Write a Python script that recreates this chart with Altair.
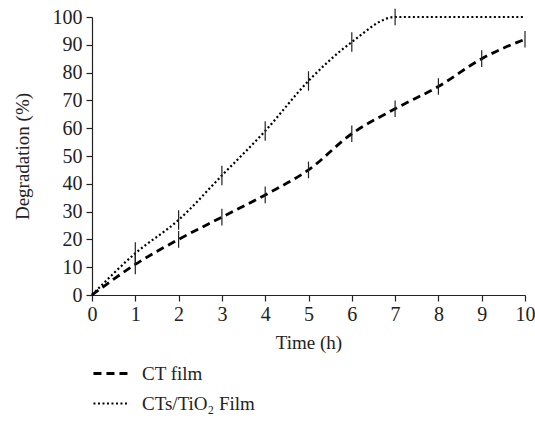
import altair as alt
import pandas as pd

time_h = [0, 1, 2, 3, 4, 5, 6, 7, 8, 9, 10]
ct_film = [0, 11, 20, 28, 36, 45, 58, 67, 75, 85, 92]
ct_err = [0, 3.5, 3, 3, 3, 3, 3, 3, 3, 3, 3]
tio2_film = [0, 15, 27, 43, 59, 77, 91, 100, 100, 100, 100]
tio2_err = [0, 4, 3.5, 3.5, 3.5, 3.5, 3.5, 3, 0, 0, 0]
series_names = ["CT film", "CTs/TiO\u2082 Film"]
y_ticks = [0, 10, 20, 30, 40, 50, 60, 70, 80, 90, 100]

rows = []
for t, v, e in zip(time_h, ct_film, ct_err):
    rows.append({"t": t, "v": v, "lo": v - e, "hi": v + e, "s": series_names[0], "e": e})
for t, v, e in zip(time_h, tio2_film, tio2_err):
    rows.append({"t": t, "v": v, "lo": v - e, "hi": v + e, "s": series_names[1], "e": e})
df = pd.DataFrame(rows)

FONT = "Liberation Serif"

xscale = alt.Scale(domain=[0, 10], nice=False)
yscale = alt.Scale(domain=[0, 100], nice=False)
xaxis = alt.Axis(values=time_h, format="d", labelOverlap=False, labelFlush=False)
yaxis = alt.Axis(values=y_ticks, labelOverlap=False, labelFlush=False)

lines = alt.Chart(df).mark_line(interpolate="monotone", color="black").encode(
    x=alt.X("t:Q", title="Time (h)", scale=xscale, axis=xaxis),
    y=alt.Y("v:Q", title="Degradation (%)", scale=yscale, axis=yaxis),
    strokeDash=alt.StrokeDash("s:N", scale=alt.Scale(domain=series_names, range=[[8, 5], [2, 2.5]]),
                              legend=alt.Legend(title=None, orient="none", legendX=0, legendY=337,
                                                symbolType="stroke", symbolSize=1300,
                                                symbolStrokeColor="black", symbolStrokeWidth=2.5,
                                                labelFont=FONT, labelFontSize=19, labelColor="#222",
                                                rowPadding=-14, labelOffset=11)),
    strokeWidth=alt.StrokeWidth("s:N", scale=alt.Scale(domain=series_names, range=[2.8, 2.2]), legend=None),
    detail="s:N",
)

bars = alt.Chart(df).transform_filter("datum.e > 0").mark_rule(color="#222", strokeWidth=1.2).encode(
    x=alt.X("t:Q", title="Time (h)", scale=xscale, axis=xaxis),
    y=alt.Y("lo:Q", title="Degradation (%)", scale=yscale, axis=yaxis),
    y2="hi:Q",
)

chart = alt.layer(lines, bars).properties(
    width=433, height=278,
    padding={"left": 92, "top": 17, "right": 10, "bottom": 133},
    autosize=alt.AutoSizeParams(type="none"),
    background="white",
).configure_view(stroke=None).configure_axis(
    grid=False, domainColor="#222", tickColor="#222", labelColor="#222", titleColor="#222",
    labelFont=FONT, titleFont=FONT, labelFontSize=20, titleFontSize=19, titleFontWeight="normal",
    domainWidth=1.2, tickWidth=1.2, tickSize=6,
).configure_axisX(labelPadding=3, titlePadding=9).configure_axisY(labelPadding=4, titlePadding=20)

chart.save("out.html", embed_options={"renderer": "svg", "actions": False})
